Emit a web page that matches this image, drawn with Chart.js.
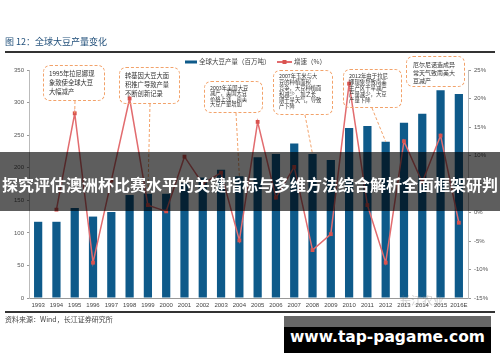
<!DOCTYPE html>
<html>
<head>
<meta charset="utf-8">
<script src="https://cdn.jsdelivr.net/npm/chart.js@4"></script>
<style>
  body { margin: 0; background: #fff; font-family: "Noto Sans CJK SC", "Noto Sans", sans-serif; }
  #wrap { position: relative; width: 500px; height: 362px; overflow: hidden; }
  #grafico { position: absolute; left: 0; top: 0; }
  .txt { position: absolute; white-space: nowrap; }
  .nota { position: absolute; border: 1.5px dashed #f2a26a; border-radius: 7px; color: #333; padding: 3px 5px; box-sizing: border-box; background: transparent; white-space: nowrap; }
</style>
</head>
<body>
<div id="wrap">
  <canvas id="grafico" width="500" height="362"></canvas>

  <div class="txt" style="left:5px; top:35px; font-size:9px; color:#1f4e79;">图 12：全球大豆产量变化</div>
  <div style="position:absolute; left:5px; top:51px; width:490px; height:2px; background:#333;"></div>

  <div class="nota" style="left:43px; top:65px; width:62px; height:36px; font-size:6.3px; line-height:9px;">1995年拉尼娜现<br>象致使全球大豆<br>大幅减产</div>
  <div class="nota" style="left:119px; top:67px; width:61px; height:37px; font-size:6.3px; line-height:9px;">转基因大豆大面<br>积推广导致产量<br>不断创新记录</div>
  <div class="nota" style="left:204px; top:81px; width:59px; height:32px; font-size:5.3px; line-height:5.4px; padding:4px 5px;">2003年美国大豆<br>减产，美国大豆<br>价格上涨，南美<br>大豆产量增加</div>
  <div class="nota" style="left:273px; top:70px; width:60px; height:45px; font-size:5.3px; line-height:5.9px; padding:3px 5px;">2007年玉米与大<br>豆的种植面积<br>竞争，大豆种植面<br>积减少，加之长<br>期干旱天气，导致<br>产下降</div>
  <div class="nota" style="left:343px; top:69px; width:59px; height:39px; font-size:5.4px; line-height:6px; padding:3px 5px;">2012年由于拉尼<br>娜现象导致南美<br>主产区干旱减产<br>产量减少，大豆<br>产量下降</div>
  <div class="nota" style="left:406px; top:56px; width:59px; height:31px; font-size:6px; line-height:8px; padding:4px 6px;">厄尔尼诺造成异<br>常天气致南美大<br>豆减产</div>

  <div style="position:absolute; left:5px; top:311px; width:490px; height:1.5px; background:#333;"></div>
  <div class="txt" style="left:5px; top:314px; font-size:7px; color:#444;">资料来源：Wind，长江证券研究所</div>
  <div class="txt" style="left:400px; top:292px; font-size:11px; color:rgba(120,120,120,0.35);">长江农业</div>

  <div style="position:absolute; left:0; top:152px; width:500px; height:59px; background:rgba(0,0,0,0.63);"></div>
  <div class="txt" style="left:0; top:172px; width:500px; text-align:center; font-size:16px; font-weight:bold; color:#fff; line-height:24px;">探究评估澳洲杯比赛水平的关键指标与多维方法综合解析全面框架研判</div>

  <div style="position:absolute; left:284px; top:316px; width:207px; height:11px; background:#666;"></div>
  <div style="position:absolute; left:284px; top:327px; width:207px; height:26px; background:#000;"></div>
  <div class="txt" style="left:284px; top:326px; width:207px; text-align:center; font-size:15.5px; font-weight:bold; color:#fff; font-family:'DejaVu Sans', sans-serif; line-height:22px;">www.tap-pagame.com</div>
</div>

<script>
const anos = ['1993','1994','1995','1996','1997','1998','1999','2000','2001','2002','2003','2004',
  '2005','2006','2007','2008','2009','2010','2011','2012','2013','2014','2015','2016E'];
const producao = [117, 117, 138, 125, 132, 158, 160, 160, 176, 185, 197, 187,
  216, 221, 237, 221, 212, 261, 264, 240, 269, 283, 319, 313];
const crescimento = [null, 0.5, 17.4, -8.8, 5.6, 20, 1.3, 0.2, 9.8, 5, 7, -4.9,
  15.9, 2.6, 8, -6.6, -3.8, 22.6, 1.3, -8.8, 12.5, 5.3, 13.5, -1.8];
const eixoEsq = [0, 350, 50];
const eixoDir = [-15, 25, 5];

// linhas tracejadas das notas: ponto de saida da caixa -> ano e serie
const ligacoes = [
  { x: 75, y: 101, ano: '1995', serie: 1 },
  { x: 150, y: 104, ano: '1999', serie: 0 },
  { x: 236, y: 113, ano: '2004', serie: 0 },
  { x: 305, y: 115, ano: '2008', serie: 0 },
  { x: 372, y: 108, ano: '2012', serie: 0 }
];

const legendaELigacoes = {
  id: 'legendaELigacoes',
  afterDraw(chart) {
    const ctx = chart.ctx;
    ctx.save();
    ctx.strokeStyle = '#f2a26a';
    ctx.lineWidth = 1;
    ctx.setLineDash([3, 2]);
    ligacoes.forEach(l => {
      const i = anos.indexOf(l.ano);
      const el = chart.getDatasetMeta(l.serie).data[i];
      ctx.beginPath();
      ctx.moveTo(l.x, l.y);
      ctx.lineTo(el.x, el.y);
      ctx.stroke();
    });
    ctx.setLineDash([]);

    // legenda
    ctx.font = '6.5px "Noto Sans CJK SC"';
    ctx.textBaseline = 'middle';
    ctx.fillStyle = '#0e5a8a';
    ctx.fillRect(185, 60.5, 12, 3);
    ctx.fillStyle = '#444';
    ctx.fillText('全球大豆产量（百万吨）', 199, 62);
    ctx.strokeStyle = '#e26c6f';
    ctx.lineWidth = 2;
    ctx.beginPath();
    ctx.moveTo(277, 62);
    ctx.lineTo(292, 62);
    ctx.stroke();
    ctx.fillStyle = '#d9534f';
    ctx.fillRect(282.5, 60, 4, 4);
    ctx.fillStyle = '#444';
    ctx.fillText('增速（%）', 294, 62);
    ctx.restore();
  }
};

const grafico = new Chart(document.querySelector('#grafico'), {
  type: 'bar',
  data: {
    labels: anos,
    datasets: [
      {
        label: '全球大豆产量（百万吨）',
        data: producao,
        backgroundColor: '#0e5a8a',
        barPercentage: 0.45,
        categoryPercentage: 1,
        yAxisID: 'y',
        order: 2
      },
      {
        type: 'line',
        label: '增速（%）',
        data: crescimento,
        borderColor: '#e26c6f',
        backgroundColor: '#d9534f',
        borderWidth: 1.5,
        pointStyle: 'rect',
        pointRadius: 2.7,
        pointBorderWidth: 0,
        tension: 0,
        yAxisID: 'y1',
        order: 1
      }
    ]
  },
  options: {
    responsive: false,
    animation: false,
    layout: { padding: { top: 70, left: 0, right: 0, bottom: 50 } },
    plugins: { legend: { display: false }, tooltip: { enabled: false } },
    scales: {
      x: {
        grid: { display: false, drawTicks: false },
        border: { color: '#999' },
        ticks: { autoSkip: false, maxRotation: 0, minRotation: 0, padding: 4,
          font: { size: 6, family: 'Liberation Sans' }, color: '#444' },
        afterFit: s => { s.height = 14; }
      },
      y: {
        position: 'left',
        min: eixoEsq[0], max: eixoEsq[1],
        ticks: { stepSize: eixoEsq[2], font: { size: 6, family: 'Liberation Sans' }, color: '#555', padding: 3 },
        grid: { drawOnChartArea: false, tickLength: 2, color: '#999' },
        border: { color: '#bbb' },
        afterFit: s => { s.width = 29; }
      },
      y1: {
        position: 'right',
        min: eixoDir[0], max: eixoDir[1],
        ticks: { stepSize: eixoDir[2], callback: v => v + '%',
          font: { size: 6, family: 'Liberation Sans' }, color: '#555', padding: 3 },
        grid: { drawOnChartArea: false, tickLength: 3, color: '#999' },
        border: { color: '#bbb' },
        afterFit: s => { s.width = 32; }
      }
    }
  },
  plugins: [legendaELigacoes]
});
</script>
</body>
</html>
